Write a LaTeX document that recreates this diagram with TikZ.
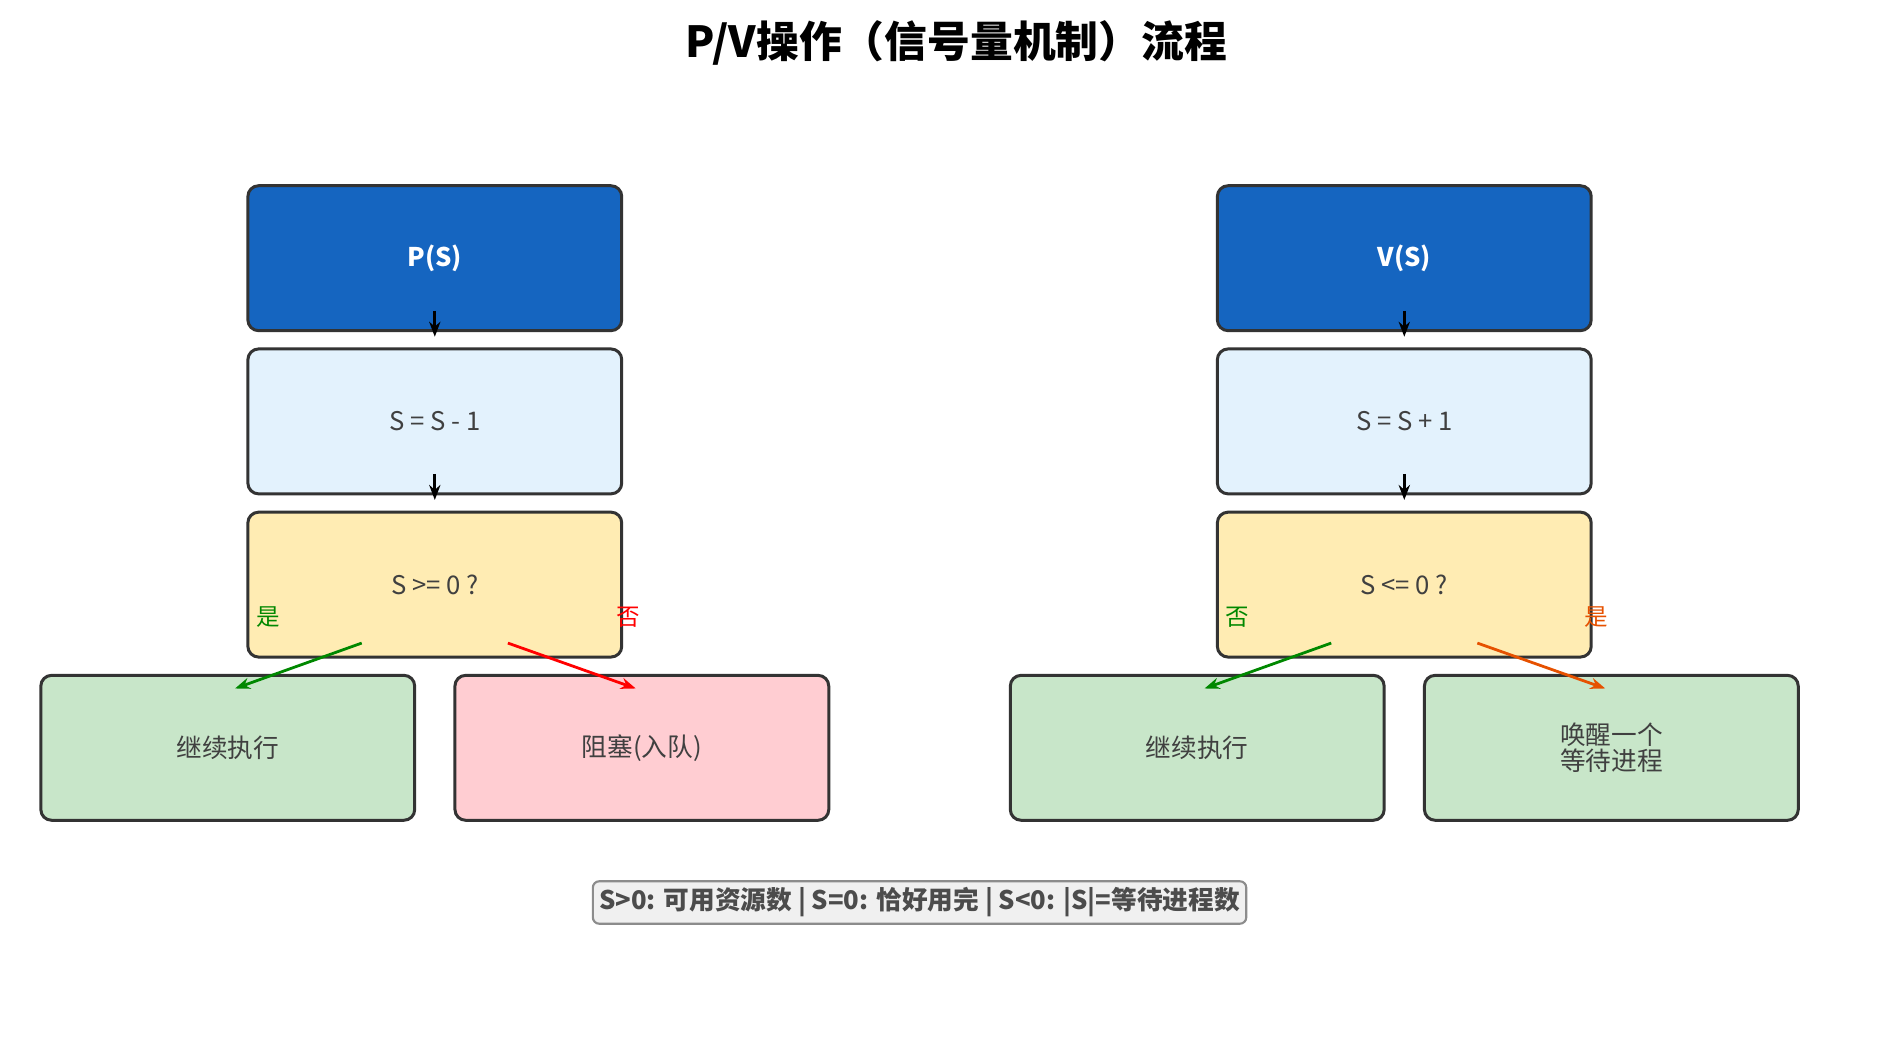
\documentclass[tikz,border=0pt]{standalone}
\usepackage{fontspec}
\setmainfont{Noto Sans CJK SC}
\usetikzlibrary{arrows.meta}
\definecolor{headblue}{HTML}{1565C0}
\definecolor{opblue}{HTML}{E3F2FD}
\definecolor{testyellow}{HTML}{FFECB3}
\definecolor{okgreen}{HTML}{C8E6C9}
\definecolor{blockred}{HTML}{FFCDD2}
\definecolor{yesgreen}{HTML}{008800}
\definecolor{wakeorange}{HTML}{E65100}
\tikzset{
  box/.style={draw=black!80, line width=1.4pt, rounded corners=5pt,
    minimum width=6.14cm, minimum height=2.38cm, font=\fontsize{12}{15}\selectfont,
    text=black!75, align=center},
  head/.style={box, fill=headblue, text=white, font=\fontsize{12}{15}\selectfont\bfseries},
  flow/.style={-{Stealth[length=7pt]}, line width=1.3pt},
  branch/.style={-{Stealth[length=7pt]}, line width=1.3pt},
  answer/.style={font=\fontsize{11}{13}\selectfont}
}
\begin{document}
\begin{tikzpicture}[x=0.02cm, y=-0.02cm]
  \useasboundingbox (0,0) rectangle (1560,854);

  \node[font=\fontsize{20}{24}\selectfont\bfseries] (title) at (785,35) {P/V操作（信号量机制）流程};

  % P 操作
  \node[head] (ps) at (357,212) {P(S)};
  \node[box, fill=opblue] (pdec) at (357,346) {S = S - 1};
  \node[box, fill=testyellow] (ptest) at (357,480) {S >= 0 ?};
  \node[box, fill=okgreen] (pgo) at (187,614) {继续执行};
  \node[box, fill=blockred] (pblock) at (527,614) {阻塞(入队)};

  \draw[flow] ([yshift=10]ps.south) -- ([yshift=5]pdec.north);
  \draw[flow] ([yshift=10]pdec.south) -- ([yshift=5]ptest.north);
  \coordinate (pyes) at (297,528);
  \coordinate (pno) at (417,528);
  \draw[branch, yesgreen] (pyes) -- ([shift={(6,12)}]pgo.north);
  \draw[branch, red] (pno) -- ([shift={(-5,12)}]pblock.north);
  \node[answer, text=yesgreen] (pyeslbl) at (220,507) {是};
  \node[answer, text=red] (pnolbl) at (516,507) {否};

  % V 操作
  \node[head] (vs) at (1153,212) {V(S)};
  \node[box, fill=opblue] (vinc) at (1153,346) {S = S + 1};
  \node[box, fill=testyellow] (vtest) at (1153,480) {S <= 0 ?};
  \node[box, fill=okgreen] (vgo) at (983,614) {继续执行};
  \node[box, fill=okgreen] (vwake) at (1323,614) {唤醒一个\\[-3pt]等待进程};

  \draw[flow] ([yshift=10]vs.south) -- ([yshift=5]vinc.north);
  \draw[flow] ([yshift=10]vinc.south) -- ([yshift=5]vtest.north);
  \coordinate (vno) at (1093,528);
  \coordinate (vyes) at (1213,528);
  \draw[branch, yesgreen] (vno) -- ([shift={(6,12)}]vgo.north);
  \draw[branch, wakeorange] (vyes) -- ([shift={(-5,12)}]vwake.north);
  \node[answer, text=yesgreen] (vnolbl) at (1016,507) {否};
  \node[answer, text=wakeorange] (vyeslbl) at (1311,507) {是};

  % 图例
  \node[draw=black!45, fill=black!6, line width=1pt, rounded corners=3pt,
    font=\fontsize{12}{15}\selectfont\bfseries, text=black!70,
    inner sep=3pt] (legend) at (755,741)
    {S>0: 可用资源数 | S=0: 恰好用完 | S<0: |S|=等待进程数};
\end{tikzpicture}
\end{document}
